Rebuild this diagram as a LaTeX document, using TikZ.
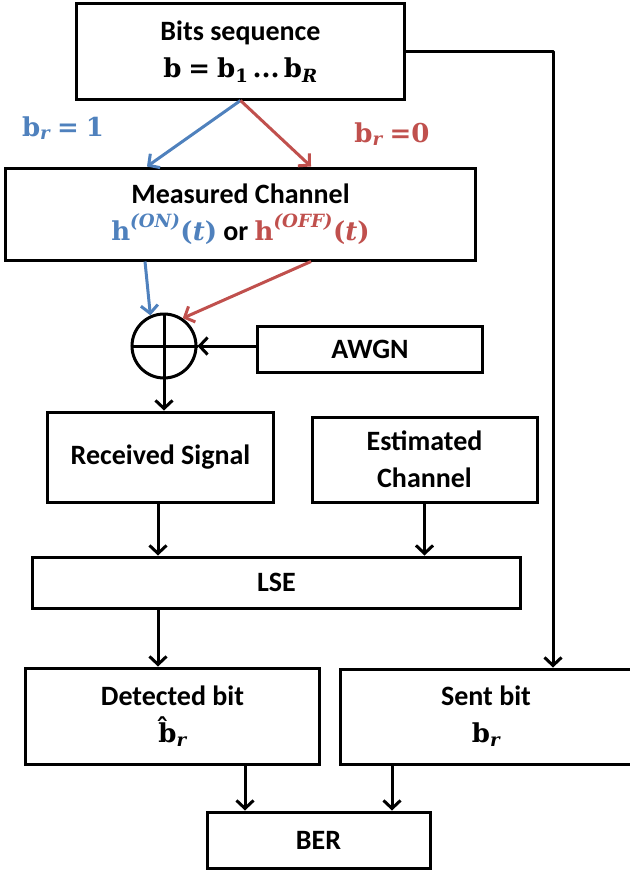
\documentclass[tikz,border=0pt]{standalone}
\usepackage{fontspec}
\setmainfont{Carlito}
\newfontfamily\mserif{DejaVu Serif}
\usepackage{amsmath}
\usetikzlibrary{arrows.meta}
\definecolor{cblue}{RGB}{79,129,189}
\definecolor{cred}{RGB}{192,80,77}
\newcommand\sB[1]{\text{\mserif\bfseries\upshape #1}}
\newcommand\sI[1]{\text{\mserif\bfseries\itshape #1}}
\begin{document}
\begin{tikzpicture}[x=1bp,y=-1bp,
  txt/.style={inner sep=0pt, align=center, font=\bfseries\fontsize{28bp}{37bp}\selectfont},
  box/.style={txt, draw, line width=3bp},
  conn/.style={line width=3bp, line join=round, -{Straight Barb[length=8bp,width=17bp]}},
]
\useasboundingbox (0,0) rectangle (630,870);
\clip (0,0) rectangle (630,870);

\node[box, minimum width=327bp, minimum height=95bp] (bits) at (240.5,51.5)
  {Bits sequence\\ \fontsize{26bp}{30bp}\selectfont $\sB{b}\;\sB{=}\;\sB{b}_{\sB{1}}\,\sB{...}\,\sB{b}_{\sI{R}}$};
\node[box, minimum width=469bp, minimum height=92bp] (meas) at (240.5,214)
  {Measured Channel\\ \textcolor{cblue}{\fontsize{26bp}{30bp}\selectfont$\sB{h}^{\sI{(ON)}}\sB{(}\sI{t}\sB{)}$} or \textcolor{cred}{\fontsize{26bp}{30bp}\selectfont$\sB{h}^{\sI{(OFF)}}\sB{(}\sI{t}\sB{)}$}};
\node[draw, circle, line width=3bp, minimum size=64bp, inner sep=0pt] (sum) at (164,346) {};
\node[box, minimum width=225bp, minimum height=46bp] (awgn) at (370,349) {AWGN};
\node[box, minimum width=225bp, minimum height=90bp] (recv) at (160.5,457) {Received Signal};
\node[box, minimum width=225bp, minimum height=85bp] (est) at (424.5,459.5) {Estimated\\ Channel};
\node[box, minimum width=487bp, minimum height=51bp] (lse) at (276.5,582.5) {LSE};
\node[box, minimum width=293bp, minimum height=96bp] (det) at (172.5,716)
  {Detected bit\\ \fontsize{26bp}{30bp}\selectfont $\sB{\^b}_{\sI{r}}$};
\node[box, minimum width=292bp, minimum height=95bp] (sent) at (486,716.5)
  {Sent bit\\ \fontsize{26bp}{30bp}\selectfont $\sB{b}_{\sI{r}}$};
\node[box, minimum width=223bp, minimum height=56bp] (ber) at (318.5,840) {BER};

\node[txt, text=cblue, font=\fontsize{26bp}{30bp}\selectfont] (l1) at (63,128) {$\sB{b}_{\sI{r}}\;\sB{=}\;\sB{1}$};
\node[txt, text=cred, font=\fontsize{26bp}{30bp}\selectfont] (l0) at (392,134) {$\sB{b}_{\sI{r}}\;\sB{=0}$};

\draw[line width=3bp] (sum.north) -- (sum.south) (sum.west) -- (sum.east);

\draw[conn, cblue] (bits.south) -- ([xshift=-93.5bp]meas.north);
\draw[conn, cred] (bits.south) -- ([xshift=70.5bp]meas.north);
\draw[conn, cblue] ([xshift=-95.5bp]meas.south) -- (sum.114);
\draw[conn, cred] ([xshift=70.5bp]meas.south) -- (sum.56);
\draw[conn] (awgn.west |- sum.east) -- (sum.east);
\draw[conn] (sum.south) -- (sum.south |- recv.north);
\draw[conn] ([xshift=-2.5bp]recv.south) -- ([xshift=-2.5bp]recv.south |- lse.north);
\draw[conn] (est.south) -- (est.south |- lse.north);
\draw[conn] ([xshift=-2.5bp]recv.south |- lse.south) -- ([xshift=-2.5bp]recv.south |- det.north);
\draw[conn] (bits.east) -| ([xshift=67bp]sent.north);
\draw[conn] ([xshift=72.5bp]det.south) -- ([xshift=72.5bp]det.south |- ber.north);
\draw[conn] ([xshift=-94bp]sent.south) -- ([xshift=-94bp]sent.south |- ber.north);
\end{tikzpicture}
\end{document}
